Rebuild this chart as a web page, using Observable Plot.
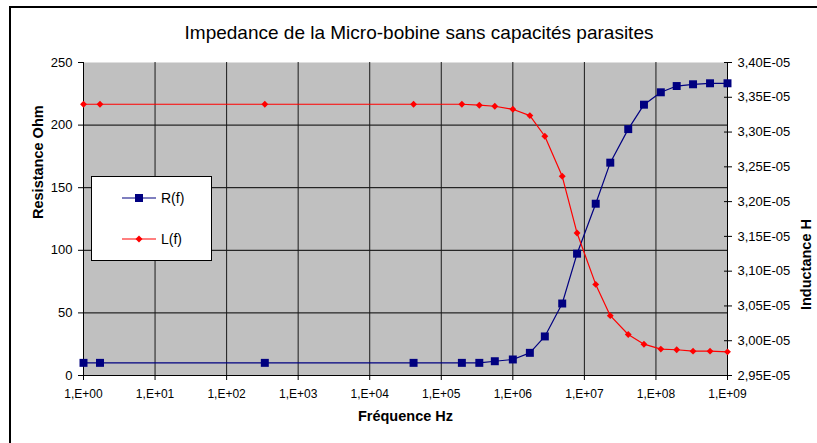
<!DOCTYPE html>
<html><head><meta charset="utf-8">
<script src="https://cdn.jsdelivr.net/npm/d3@7"></script>
<script src="https://cdn.jsdelivr.net/npm/@observablehq/plot@0.6"></script>
<style>
body{margin:0;background:#fff;}
#wrap{position:relative;width:817px;height:443px;overflow:hidden;font-family:"Liberation Sans",Arial,sans-serif;color:#000;}
#border{position:absolute;left:9px;top:6px;width:900px;height:600px;border-left:2px solid #000;border-top:2px solid #000;}
#title{position:absolute;top:21px;left:0;width:838px;text-align:center;font-size:19px;line-height:23px;}
#chart{position:absolute;left:0;top:50px;}
#legend{position:absolute;left:91px;top:176px;width:119px;height:83px;background:#fff;border:1px solid #000;}
#legend .row{position:absolute;left:30px;height:20px;display:flex;align-items:center;font-size:14px;}
#legend svg{margin-right:5px;}
</style></head><body>
<div id="wrap">
  <div id="border"></div>
  <div id="title">Impedance de la Micro-bobine sans capacités parasites</div>
  <div id="chart"></div>
  <div id="legend"></div>
</div>
<script>
// Frequencies (Hz)
const frequency = [1, 1.7, 342, 4.1e4, 1.94e5, 3.4e5, 5.6e5, 1e6, 1.73e6, 2.8e6, 4.9e6, 7.9e6,
  1.44e7, 2.3e7, 4.1e7, 6.8e7, 1.17e8, 1.95e8, 3.3e8, 5.7e8, 1e9];
// R(f) in Ohm
const resistance = [10.1, 10.1, 10.1, 10.1, 10.1, 10.1, 11.4, 12.8, 18.1, 31.2, 57.5, 97.3,
  137.2, 170.0, 196.8, 216.3, 226.2, 231.2, 232.6, 233.4, 233.4];
// L(f) in Henry
const inductance = [3.340e-5, 3.340e-5, 3.340e-5, 3.340e-5, 3.340e-5, 3.3386e-5, 3.3371e-5, 3.3328e-5,
  3.3237e-5, 3.294e-5, 3.2364e-5, 3.1548e-5, 3.081e-5, 3.036e-5, 3.009e-5, 2.995e-5, 2.988e-5,
  2.987e-5, 2.985e-5, 2.985e-5, 2.984e-5];
const xTicks = [1, 1e1, 1e2, 1e3, 1e4, 1e5, 1e6, 1e7, 1e8, 1e9];
const rTicks = [0, 50, 100, 150, 200, 250];
const lTicks = [2.95e-5, 3.00e-5, 3.05e-5, 3.10e-5, 3.15e-5, 3.20e-5, 3.25e-5, 3.30e-5, 3.35e-5, 3.40e-5];
const seriesNames = ["R(f)", "L(f)"];
const seriesColors = ["#000080", "#ff0000"];

const lMin = lTicks[0], lMax = lTicks[lTicks.length - 1];
const rMin = rTicks[0], rMax = rTicks[rTicks.length - 1];
const lToR = v => rMin + (v - lMin) / (lMax - lMin) * (rMax - rMin);
const rToL = d => lMin + (d - rMin) / (rMax - rMin) * (lMax - lMin);
const fmtL = d => (rToL(d) * 1e5).toFixed(2).replace(".", ",") + "E-05";
const fmtX = d => "1,E+" + String(Math.round(Math.log10(d))).padStart(2, "0");

const data = frequency.map((f, i) => ({f, r: resistance[i], l: inductance[i], lr: lToR(inductance[i])}));
const font = '"Liberation Sans",Arial,sans-serif';

const chart = Plot.plot({
  width: 817, height: 393,
  marginTop: 12, marginLeft: 83, marginRight: 90, marginBottom: 68,
  style: {fontFamily: font, fontSize: "13px", color: "#000", background: "transparent", overflow: "visible"},
  x: {type: "log", domain: [xTicks[0], xTicks[xTicks.length - 1]]},
  y: {domain: [rMin, rMax]},
  marks: [
    Plot.frame({fill: "#c0c0c0", stroke: null}),
    Plot.ruleY(rTicks.slice(1, -1), {stroke: "#000", strokeWidth: 1}),
    Plot.ruleX(xTicks.slice(1, -1), {stroke: "#1a1a1a", strokeWidth: 1}),
    Plot.ruleY([rMin], {stroke: "#000"}),
    Plot.ruleX([xTicks[0], xTicks[xTicks.length - 1]], {stroke: "#000"}),
    Plot.axisX({ticks: xTicks, tickSize: 5, tickPadding: 9, tickFormat: fmtX, label: null, fontSize: 12}),
    Plot.axisY({ticks: rTicks, anchor: "left", tickSize: 5, tickPadding: 6, tickFormat: d => String(d), label: null}),
    Plot.axisY({ticks: lTicks.map(lToR), anchor: "right", tickSize: 4, tickPadding: 6, tickFormat: fmtL, label: null}),
    Plot.axisY({ticks: lTicks.map(lToR), anchor: "right", tickSize: 4, dx: -4, tickFormat: () => "", label: null}),
    Plot.line(data, {x: "f", y: "r", stroke: seriesColors[0], strokeWidth: 1.2}),
    Plot.line(data, {x: "f", y: "lr", stroke: seriesColors[1], strokeWidth: 1.2}),
    Plot.dot(data, {x: "f", y: "r", symbol: "square", r: 4.5, fill: seriesColors[0]}),
    Plot.dot(data, {x: "f", y: "lr", symbol: "diamond2", r: 3.1, fill: seriesColors[1]}),
    Plot.text(["Fréquence Hz"], {frameAnchor: "bottom", dy: 45, fontWeight: "bold", fontSize: 14.5}),
    Plot.text(["Resistance Ohm"], {frameAnchor: "left", dx: -45, rotate: -90, fontWeight: "bold", fontSize: 14.5}),
    Plot.text(["Inductance H"], {frameAnchor: "right", dx: 79, rotate: -90, fontWeight: "bold", fontSize: 14.5})
  ]
});
document.getElementById("chart").appendChild(chart);

// Legend
const legend = document.getElementById("legend");
seriesNames.forEach((name, i) => {
  const row = document.createElement("div");
  row.className = "row";
  row.style.top = (i === 0 ? 11 : 52) + "px";
  const marker = i === 0
    ? `<rect x="13" y="6" width="8" height="8" fill="${seriesColors[i]}"/>`
    : `<path d="M17,6.5L20.5,10L17,13.5L13.5,10Z" fill="${seriesColors[i]}"/>`;
  row.innerHTML = `<svg width="34" height="20"><line x1="0" y1="10" x2="34" y2="10" stroke="${seriesColors[i]}" stroke-width="1.2"/>${marker}</svg><span>${name}</span>`;
  legend.appendChild(row);
});
</script>
</body></html>
